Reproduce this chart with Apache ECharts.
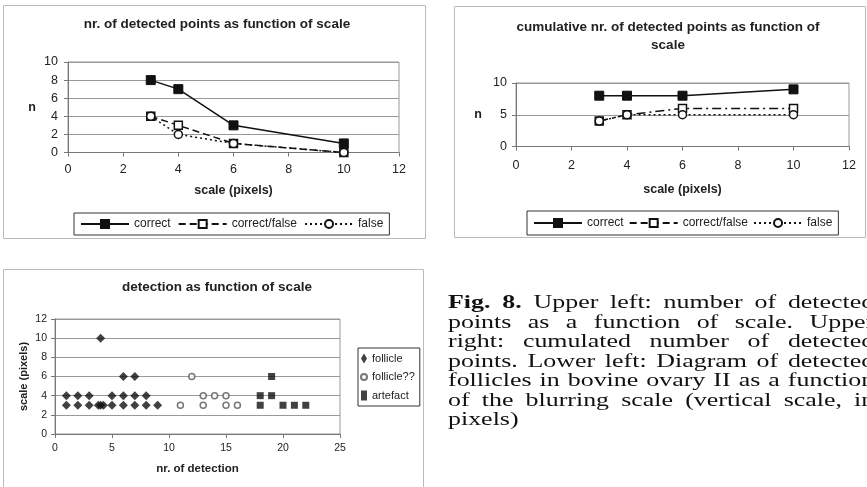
<!DOCTYPE html>
<html>
<head>
<meta charset="utf-8">
<script src="https://cdn.jsdelivr.net/npm/echarts@6/dist/echarts.min.js"></script>
<style>
html,body{margin:0;padding:0;background:#fff;overflow:hidden;}
#chart{position:absolute;left:0;top:0;width:867px;height:487px;}
#caption{position:absolute;left:448px;top:293px;width:296px;font-family:"Liberation Serif",serif;font-size:18px;line-height:19.5px;color:#111;transform:scaleX(1.44);transform-origin:0 0;}
#caption div{white-space:nowrap;}
#caption .j{text-align:justify;text-align-last:justify;}
</style>
</head>
<body>
<div id="chart"></div>
<div id="caption">
<div class="j"><b>Fig. 8.</b> Upper left: number of detected</div>
<div class="j">points as a function of scale. Upper</div>
<div class="j">right: cumulated number of detected</div>
<div class="j">points. Lower left: Diagram of detected</div>
<div class="j">follicles in bovine ovary II as a function</div>
<div class="j">of the blurring scale (vertical scale, in</div>
<div>pixels)</div>
</div>
<script>
// ---- data ----
const scaleX = [3, 4, 6, 10];
const nCorrect = [8, 7, 3, 1];
const nCorrectFalse = [4, 3, 1, 0];
const nFalse = [4, 2, 1, 0];
const cumCorrect = [8, 8, 8, 9];
const cumCorrectFalse = [4, 5, 6, 6];
const cumFalse = [4, 5, 5, 5];

const follicleX = [4, 6, 7, 1, 2, 3, 5, 6, 7, 8, 1, 2, 3, 3.8, 4, 4.25, 5, 6, 7, 8, 9];
const follicleY = [10, 6, 6, 4, 4, 4, 4, 4, 4, 4, 3, 3, 3, 3, 3, 3, 3, 3, 3, 3, 3];
const follicleQX = [12, 13, 14, 15, 11, 13, 15, 16];
const follicleQY = [6, 4, 4, 4, 3, 3, 3, 3];
const artefactX = [19, 18, 19, 18, 20, 21, 22];
const artefactY = [6, 4, 4, 3, 3, 3, 3];

const legend12 = ['correct', 'correct/false', 'false'];
const legend3 = ['follicle', 'follicle??', 'artefact'];
const title1 = 'nr. of detected points as function of scale';
const title2 = 'cumulative nr. of detected points as function of\nscale';
const title3 = 'detection as function of scale';
const xName12 = 'scale (pixels)';
const yName12 = 'n';
const xName3 = 'nr. of detection';
const yName3 = 'scale (pixels)';

const zip = (xs, ys) => xs.map((x, i) => [x, ys[i]]);

// ---- styles ----
const FONT = '"Liberation Sans", Arial, sans-serif';
const TXT = '#222';
const axisCommon = (extra) => Object.assign({
  type: 'value',
  axisLine: {show: true, lineStyle: {color: '#777', width: 1}},
  axisTick: {show: true, length: 4, lineStyle: {color: '#777'}},
  splitLine: {show: false},
  axisLabel: {color: TXT, fontFamily: FONT, fontSize: 11},
  nameTextStyle: {color: TXT, fontFamily: FONT, fontSize: 12.5, fontWeight: 'bold'}
}, extra);
const ySplit = {show: true, lineStyle: {color: '#999', width: 1}};
const lbl = (size, margin) => ({color: TXT, fontFamily: FONT, fontSize: size, margin});

const lineSeries = (name, xi, ys, kind) => {
  const base = {
    name, type: 'line', xAxisIndex: xi, yAxisIndex: xi, clip: false,
    data: zip(scaleX, ys), z: kind === 'correct' ? 5 : 4
  };
  if (kind === 'correct') {
    base.symbol = 'rect'; base.symbolSize = 9;
    base.itemStyle = {color: '#111', borderColor: '#111', borderWidth: 1};
    base.lineStyle = {color: '#111', width: 1.5, type: 'solid'};
  } else if (kind === 'cf') {
    base.symbol = 'rect'; base.symbolSize = 8;
    base.itemStyle = {color: '#fff', borderColor: '#111', borderWidth: 1.5};
    base.lineStyle = {color: '#111', width: 1.5, type: xi === 0 ? [7, 4] : [9, 4, 2, 4]};
  } else {
    base.symbol = 'circle'; base.symbolSize = 8;
    base.itemStyle = {color: '#fff', borderColor: '#111', borderWidth: 1.5};
    base.lineStyle = {color: '#111', width: 1.5, type: [2, 3]};
  }
  return base;
};

const titleStyle = {color: TXT, fontFamily: FONT, fontSize: 13.5, fontWeight: 'bold', lineHeight: 18};
const chart = echarts.init(document.getElementById('chart'), null, {renderer: 'canvas'});
const option = {
  animation: false,
  backgroundColor: '#fff',
  graphic: [
    {type: 'rect', shape: {x: 3.5, y: 5.5, width: 422, height: 233}, style: {fill: 'none', stroke: '#bbb', lineWidth: 1}, z: -1},
    {type: 'rect', shape: {x: 454.5, y: 6.5, width: 411, height: 231}, style: {fill: 'none', stroke: '#bbb', lineWidth: 1}, z: -1},
    {type: 'rect', shape: {x: 3.5, y: 269.5, width: 420, height: 230}, style: {fill: 'none', stroke: '#bbb', lineWidth: 1}, z: -1}
  ],
  title: [
    {text: title1, left: 212, top: 10, textAlign: 'center', textStyle: titleStyle},
    {text: title2, left: 663, top: 13, textAlign: 'center', textStyle: titleStyle},
    {text: title3, left: 212, top: 273, textAlign: 'center', textStyle: titleStyle}
  ],
  legend: [
    {data: legend12.map(n => ({name: n})), left: 74, top: 213, orient: 'horizontal',
     padding: [5, 6], itemWidth: 48, itemHeight: 10, itemGap: 7,
     borderColor: '#333', borderWidth: 1, textStyle: {color: TXT, fontFamily: FONT, fontSize: 12},
     selectedMode: false},
    {data: legend12.map(n => ({name: n})), left: 527, top: 211, orient: 'horizontal',
     padding: [6, 6], itemWidth: 48, itemHeight: 10, itemGap: 5,
     borderColor: '#333', borderWidth: 1, textStyle: {color: TXT, fontFamily: FONT, fontSize: 12},
     selectedMode: false},
    {data: legend3.map(n => ({name: n})), left: 358, top: 348, orient: 'vertical',
     padding: [5, 5, 5, 2], itemWidth: 6, itemHeight: 10, itemGap: 7.5,
     borderColor: '#333', borderWidth: 1, textStyle: {color: TXT, fontFamily: FONT, fontSize: 11},
     selectedMode: false}
  ],
  grid: [
    {left: 68, top: 62, width: 331, height: 90.5, show: true, borderColor: '#999', borderWidth: 1},
    {left: 516, top: 83, width: 333, height: 63.5, show: true, borderColor: '#999', borderWidth: 1},
    {left: 55, top: 319, width: 285, height: 115, show: true, borderColor: '#999', borderWidth: 1}
  ],
  xAxis: [
    axisCommon({gridIndex: 0, min: 0, max: 12, interval: 2, name: xName12, nameLocation: 'middle', nameGap: 32,
      axisLabel: lbl(12.5, 11)}),
    axisCommon({gridIndex: 1, min: 0, max: 12, interval: 2, name: xName12, nameLocation: 'middle', nameGap: 37,
      axisLabel: lbl(12.5, 13)}),
    axisCommon({gridIndex: 2, min: 0, max: 25, interval: 5, name: xName3, nameLocation: 'middle', nameGap: 29,
      axisLabel: lbl(10.5, 9),
      nameTextStyle: {color: TXT, fontFamily: FONT, fontSize: 11.5, fontWeight: 'bold'}})
  ],
  yAxis: [
    axisCommon({gridIndex: 0, min: 0, max: 10, interval: 2, splitLine: ySplit, name: yName12, nameLocation: 'middle', nameGap: 32, nameRotate: 0,
      axisLabel: lbl(12.5, 10)}),
    axisCommon({gridIndex: 1, min: 0, max: 10, interval: 5, splitLine: ySplit, name: yName12, nameLocation: 'middle', nameGap: 34, nameRotate: 0,
      axisLabel: lbl(12.5, 9)}),
    axisCommon({gridIndex: 2, min: 0, max: 12, interval: 2, splitLine: ySplit, name: yName3, nameLocation: 'middle', nameGap: 26,
      axisLabel: lbl(10.5, 8),
      nameTextStyle: {color: TXT, fontFamily: FONT, fontSize: 11, fontWeight: 'bold'}})
  ],
  series: [
    lineSeries('correct', 0, nCorrect, 'correct'),
    lineSeries('correct/false', 0, nCorrectFalse, 'cf'),
    lineSeries('false', 0, nFalse, 'f'),
    lineSeries('correct', 1, cumCorrect, 'correct'),
    lineSeries('correct/false', 1, cumCorrectFalse, 'cf'),
    lineSeries('false', 1, cumFalse, 'f'),
    {name: 'follicle', type: 'scatter', xAxisIndex: 2, yAxisIndex: 2, clip: false, symbol: 'diamond', symbolSize: 9,
     itemStyle: {color: '#111'}, data: zip(follicleX, follicleY)},
    {name: 'follicle??', type: 'scatter', xAxisIndex: 2, yAxisIndex: 2, clip: false, symbol: 'circle', symbolSize: 6,
     itemStyle: {color: '#fff', borderColor: '#555', borderWidth: 1.5}, data: zip(follicleQX, follicleQY)},
    {name: 'artefact', type: 'scatter', xAxisIndex: 2, yAxisIndex: 2, clip: false, symbol: 'rect', symbolSize: 7,
     itemStyle: {color: '#111'}, data: zip(artefactX, artefactY)}
  ]
};
chart.setOption(option);
</script>
</body>
</html>
